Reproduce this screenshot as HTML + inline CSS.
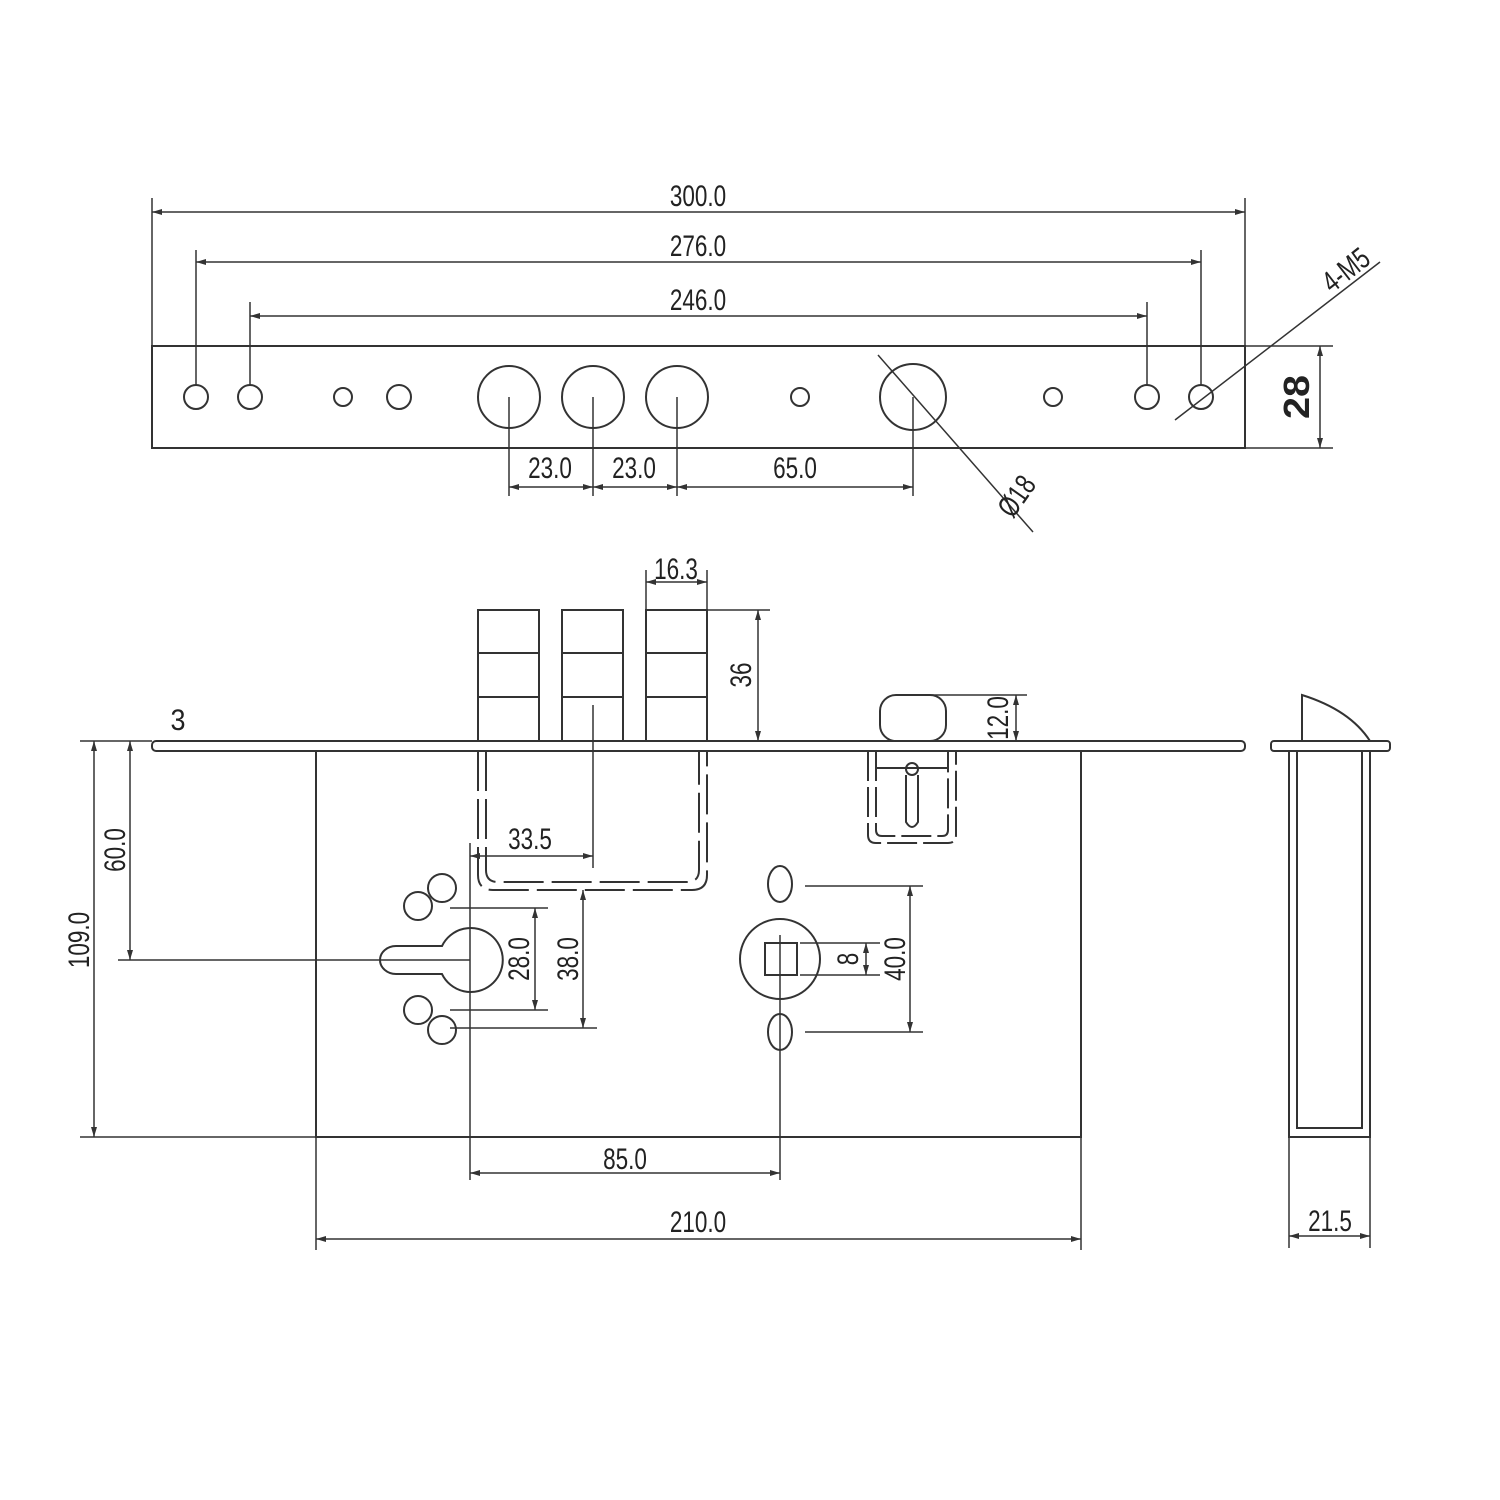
<!DOCTYPE html><html><head><style>html,body{margin:0;padding:0;background:#fff}svg{display:block}text{font-family:"Liberation Sans",sans-serif;font-size:30px;fill:#222}</style></head><body>
<svg width="1500" height="1500" viewBox="0 0 1500 1500" xmlns="http://www.w3.org/2000/svg">
<defs><marker id="a" viewBox="0 0 10 6" refX="10" refY="3" markerWidth="10" markerHeight="6" orient="auto-start-reverse" markerUnits="userSpaceOnUse"><path d="M0,0L10,3L0,6z" fill="#333"/></marker></defs>
<g stroke="#333" stroke-width="2" fill="none">
<!-- top plate -->
<rect x="152" y="346" width="1093" height="102"/>
<circle cx="196" cy="397" r="12"/><circle cx="250" cy="397" r="12"/><circle cx="399" cy="397" r="12"/><circle cx="1147" cy="397" r="12"/><circle cx="1201" cy="397" r="12"/>
<circle cx="343" cy="397" r="9"/><circle cx="800" cy="397" r="9"/><circle cx="1053" cy="397" r="9"/>
<circle cx="509" cy="397" r="31"/><circle cx="593" cy="397" r="31"/><circle cx="677" cy="397" r="31"/><circle cx="913" cy="397" r="33"/>
<g stroke-width="1.5">
<line x1="152" y1="198" x2="152" y2="346"/><line x1="1245" y1="198" x2="1245" y2="346"/>
<line x1="152" y1="212" x2="1245" y2="212" marker-start="url(#a)" marker-end="url(#a)"/>
<line x1="196" y1="250" x2="196" y2="385"/><line x1="1201" y1="250" x2="1201" y2="385"/>
<line x1="196" y1="262" x2="1201" y2="262" marker-start="url(#a)" marker-end="url(#a)"/>
<line x1="250" y1="302" x2="250" y2="385"/><line x1="1147" y1="302" x2="1147" y2="385"/>
<line x1="250" y1="316" x2="1147" y2="316" marker-start="url(#a)" marker-end="url(#a)"/>
<line x1="509" y1="397" x2="509" y2="496"/><line x1="593" y1="397" x2="593" y2="496"/><line x1="677" y1="397" x2="677" y2="496"/><line x1="913" y1="397" x2="913" y2="496"/>
<line x1="509" y1="487" x2="593" y2="487" marker-start="url(#a)" marker-end="url(#a)"/>
<line x1="593" y1="487" x2="677" y2="487" marker-start="url(#a)" marker-end="url(#a)"/>
<line x1="677" y1="487" x2="913" y2="487" marker-start="url(#a)" marker-end="url(#a)"/>
<line x1="1245" y1="346" x2="1333" y2="346"/><line x1="1245" y1="448" x2="1333" y2="448"/>
<line x1="1320" y1="346" x2="1320" y2="448" marker-start="url(#a)" marker-end="url(#a)"/>
<line x1="1175" y1="420" x2="1380" y2="262"/>
<line x1="878" y1="355" x2="1033" y2="532"/>
</g>
<!-- bolts -->
<rect x="478" y="610" width="61" height="131"/><line x1="478" y1="653" x2="539" y2="653"/><line x1="478" y1="697" x2="539" y2="697"/>
<rect x="562" y="610" width="61" height="131"/><line x1="562" y1="653" x2="623" y2="653"/><line x1="562" y1="697" x2="623" y2="697"/>
<rect x="646" y="610" width="61" height="131"/><line x1="646" y1="653" x2="707" y2="653"/><line x1="646" y1="697" x2="707" y2="697"/>
<!-- faceplate & body -->
<rect x="152" y="741" width="1093" height="10" rx="4"/>
<path d="M316 751V1137H1081V751"/>
<line x1="80" y1="1137" x2="316" y2="1137" stroke-width="1.5"/>
<!-- dashed box -->
<g stroke-dasharray="40,8">
<path d="M478 751V875q0 15 15 15H692q15 0 15-15V751"/>
<path d="M486 751V870q0 12 12 12H687q12 0 12-12V751"/>
</g>
<!-- keyhole -->
<path d="M442 946A32 32 0 1 1 442 974H396A16 14 0 0 1 396 946Z"/>
<circle cx="442" cy="888" r="14"/><circle cx="418" cy="906" r="14"/><circle cx="418" cy="1010" r="14"/><circle cx="442" cy="1030" r="14"/>
<!-- spindle -->
<circle cx="780" cy="959" r="40"/><rect x="765" y="943" width="32" height="32"/>
<ellipse cx="780" cy="884" rx="12" ry="18"/><ellipse cx="780" cy="1032" rx="12" ry="18"/>
<!-- latch -->
<rect x="880" y="695" width="66" height="46" rx="16"/>
<path d="M868 751V835q0 8 8 8H948q8 0 8-8V751" stroke-dasharray="30,6"/>
<path d="M876 751V830q0 6 6 6H942q6 0 6-6V751" stroke-dasharray="30,6"/>
<line x1="876" y1="768" x2="948" y2="768"/>
<circle cx="912" cy="769" r="6"/>
<path d="M906 775V822q6 10 12 0V775"/>
<!-- side view -->
<rect x="1271" y="741" width="119" height="10" rx="3"/>
<path d="M1302 741V695Q1350 710 1370 741"/>
<path d="M1289 751V1137H1370V751M1297 751V1128H1362V751"/>
<g stroke-width="1.5">
<line x1="646" y1="570" x2="646" y2="610"/><line x1="707" y1="570" x2="707" y2="610"/>
<line x1="646" y1="582" x2="707" y2="582" marker-start="url(#a)" marker-end="url(#a)"/>
<line x1="707" y1="610" x2="770" y2="610"/>
<line x1="758" y1="610" x2="758" y2="741" marker-start="url(#a)" marker-end="url(#a)"/>
<line x1="925" y1="695" x2="1027" y2="695"/>
<line x1="1016" y1="695" x2="1016" y2="741" marker-start="url(#a)" marker-end="url(#a)"/>
<line x1="80" y1="741" x2="152" y2="741"/>
<line x1="94" y1="741" x2="94" y2="1137" marker-start="url(#a)" marker-end="url(#a)"/>
<line x1="118" y1="960" x2="470" y2="960"/>
<line x1="130" y1="741" x2="130" y2="960" marker-start="url(#a)" marker-end="url(#a)"/>
<line x1="593" y1="705" x2="593" y2="868"/>
<line x1="470" y1="843" x2="470" y2="1180"/>
<line x1="470" y1="856" x2="593" y2="856" marker-start="url(#a)" marker-end="url(#a)"/>
<line x1="450" y1="908" x2="548" y2="908"/><line x1="450" y1="1010" x2="548" y2="1010"/>
<line x1="535" y1="908" x2="535" y2="1010" marker-start="url(#a)" marker-end="url(#a)"/>
<line x1="583" y1="890" x2="583" y2="1028" marker-start="url(#a)" marker-end="url(#a)"/>
<line x1="450" y1="1028" x2="597" y2="1028"/>
<line x1="780" y1="935" x2="780" y2="1180"/>
<line x1="470" y1="1173" x2="780" y2="1173" marker-start="url(#a)" marker-end="url(#a)"/>
<line x1="316" y1="1137" x2="316" y2="1250"/><line x1="1081" y1="1137" x2="1081" y2="1250"/>
<line x1="316" y1="1239" x2="1081" y2="1239" marker-start="url(#a)" marker-end="url(#a)"/>
<line x1="805" y1="886" x2="923" y2="886"/><line x1="805" y1="1032" x2="923" y2="1032"/>
<line x1="910" y1="886" x2="910" y2="1032" marker-start="url(#a)" marker-end="url(#a)"/>
<line x1="800" y1="943" x2="880" y2="943"/><line x1="800" y1="975" x2="880" y2="975"/>
<line x1="866" y1="943" x2="866" y2="975" marker-start="url(#a)" marker-end="url(#a)"/>
<line x1="1289" y1="1137" x2="1289" y2="1248"/><line x1="1370" y1="1137" x2="1370" y2="1248"/>
<line x1="1289" y1="1236" x2="1370" y2="1236" marker-start="url(#a)" marker-end="url(#a)"/>
</g>
</g>
<g text-anchor="middle">
<text transform="translate(698,206) scale(.75,1)">300.0</text>
<text transform="translate(698,256) scale(.75,1)">276.0</text>
<text transform="translate(698,310) scale(.75,1)">246.0</text>
<text transform="translate(550,478) scale(.75,1)">23.0</text>
<text transform="translate(634,478) scale(.75,1)">23.0</text>
<text transform="translate(795,478) scale(.75,1)">65.0</text>
<text transform="translate(1309,397) rotate(-90) scale(1.1,1)" style="font-weight:bold;font-size:36px">28</text>
<text transform="translate(1352,278) rotate(-38) scale(.75,1)">4-M5</text>
<text transform="translate(1025,502) rotate(-55) scale(.75,1)">Ø18</text>
<text transform="translate(676,579) scale(.75,1)">16.3</text>
<text transform="translate(751,675) rotate(-90) scale(.75,1)">36</text>
<text transform="translate(1008,718) rotate(-90) scale(.75,1)">12.0</text>
<text transform="translate(178,730) scale(.9,1)">3</text>
<text transform="translate(89,940) rotate(-90) scale(.75,1)">109.0</text>
<text transform="translate(125,850) rotate(-90) scale(.75,1)">60.0</text>
<text transform="translate(530,849) scale(.75,1)">33.5</text>
<text transform="translate(529,959) rotate(-90) scale(.75,1)">28.0</text>
<text transform="translate(578,959) rotate(-90) scale(.75,1)">38.0</text>
<text transform="translate(858,959) rotate(-90) scale(.75,1)">8</text>
<text transform="translate(905,959) rotate(-90) scale(.75,1)">40.0</text>
<text transform="translate(625,1169) scale(.75,1)">85.0</text>
<text transform="translate(698,1232) scale(.75,1)">210.0</text>
<text transform="translate(1330,1231) scale(.75,1)">21.5</text>
</g>
</svg></body></html>
